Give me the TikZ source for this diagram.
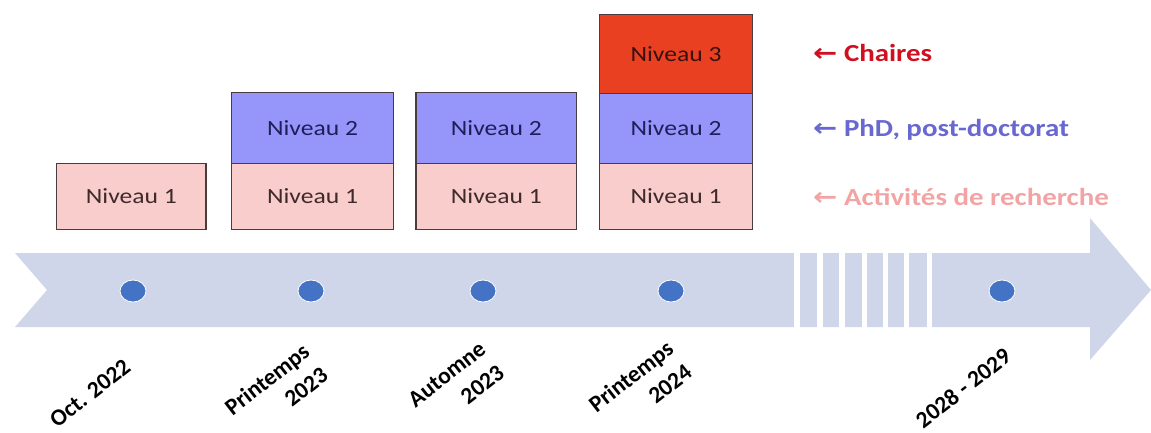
\documentclass[tikz,border=0pt]{standalone}
\usepackage{fontspec}
\setmainfont{Carlito}
\newfontfamily\arrowfont{DejaVu Sans}
\definecolor{lvlA}{HTML}{FACDCD}
\definecolor{lvlB}{HTML}{9696FA}
\definecolor{lvlC}{HTML}{E84020}
\definecolor{txtA}{HTML}{3E2A2A}
\definecolor{txtB}{HTML}{1E1E5A}
\definecolor{txtC}{HTML}{3A1010}
\definecolor{boxline}{HTML}{4A3C3C}
\definecolor{bandcol}{HTML}{CFD6EA}
\definecolor{dotblue}{HTML}{4472C4}
\definecolor{legC}{HTML}{D01020}
\definecolor{legB}{HTML}{6868D0}
\definecolor{legA}{HTML}{F2A4A4}
\begin{document}
\begin{tikzpicture}[x=0.847458pt,y=-1pt,xscale=1.18,
  every node/.append style={transform shape},
  box/.style={draw=boxline, line width=1.4pt, inner sep=0pt,
    font=\fontsize{21.7}{26}\selectfont},
  lvlone/.style={box, fill=lvlA, text=txtA, minimum height=66pt},
  lvltwo/.style={box, fill=lvlB, text=txtB, minimum height=70.6pt},
  lvlthree/.style={box, fill=lvlC, text=txtC, minimum height=79pt},
  dot/.style={circle, fill=dotblue, draw=white, line width=0.8pt,
    minimum size=22pt, inner sep=0pt},
  datelbl/.style={font=\bfseries\fontsize{23.5}{30}\selectfont,
    xscale=0.847458, rotate=38, align=right, inner sep=0pt},
  legend/.style={font=\bfseries\fontsize{24.5}{28}\selectfont, anchor=west,
    inner sep=0pt}]
\useasboundingbox (0,0) rectangle (1151,432);
% band arrow
\fill[bandcol] (15,253) -- (1090,253) -- (1090,218) -- (1151,290)
  -- (1090,360) -- (1090,327) -- (15,327) -- (47,290) -- cycle;
\foreach \a/\b in {794/800, 817/823, 839/845, 862/867, 883/888, 904/909, 927/932}
  \fill[white] (\a,249) rectangle (\b,331);
% boxes
\node[lvlone, minimum width=126.5pt] (a1) at (131.35,196.3) {Niveau 1};
\node[lvlone, minimum width=137pt] (b1) at (312.5,196.3) {Niveau 1};
\node[lvltwo, minimum width=137pt] (b2) at (312.5,128) {Niveau 2};
\node[lvlone, minimum width=136.2pt] (c1) at (496.35,196.3) {Niveau 1};
\node[lvltwo, minimum width=136.2pt] (c2) at (496.35,128) {Niveau 2};
\node[lvlone, minimum width=130pt] (e1) at (676,196.3) {Niveau 1};
\node[lvltwo, minimum width=130pt] (e2) at (676,128) {Niveau 2};
\node[lvlthree, minimum width=130pt] (e3) at (676,53.8) {Niveau 3};
% dots
\node[dot] (d1) at (133,291) {};
\node[dot] (d2) at (311,291) {};
\node[dot] (d3) at (483,291) {};
\node[dot] (d4) at (671,291) {};
\node[dot] (d5) at (1002,291) {};
% date labels
\node[datelbl] (t1) at (90,393) {Oct. 2022};
\node[datelbl] (t2) at (276,391) {Printemps\\2023};
\node[datelbl] (t3) at (456,386) {Automne\\2023};
\node[datelbl] (t4) at (640,388) {Printemps\\2024};
\node[datelbl] (t5) at (963,388) {2028 - 2029};
% legend
\node[legend, text=legC] (lc) at (813,53) {{\arrowfont ←} Chaires};
\node[legend, text=legB] (lb) at (813,130) {{\arrowfont ←} PhD, post-doctorat};
\node[legend, text=legA] (la) at (813,197) {{\arrowfont ←} Activités de recherche};
\end{tikzpicture}
\end{document}
